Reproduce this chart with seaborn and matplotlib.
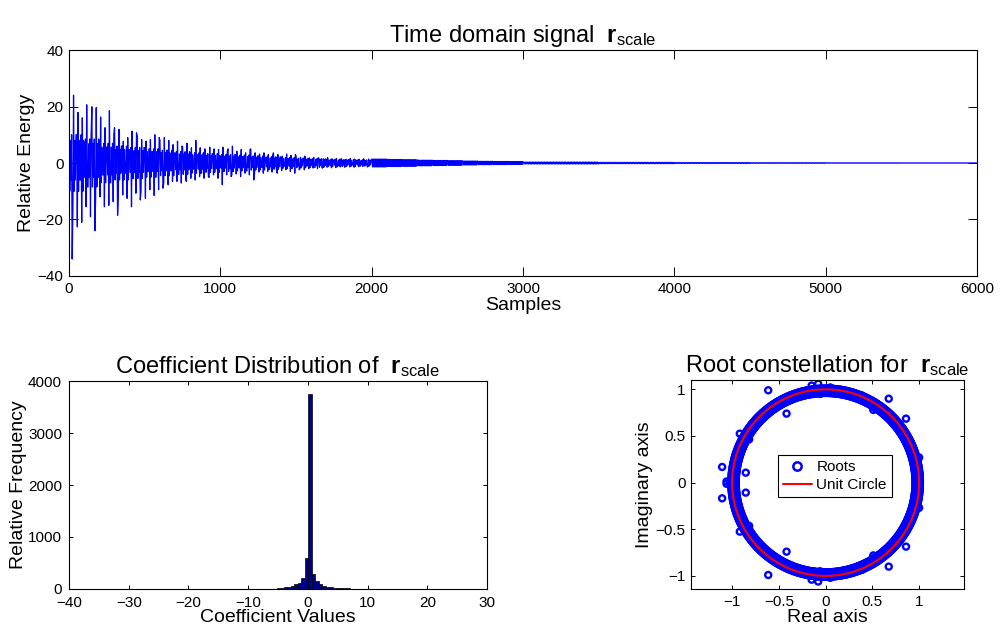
import numpy as np
import pandas as pd
import matplotlib
matplotlib.use("Agg")
import matplotlib.pyplot as plt
import seaborn as sns
from matplotlib.lines import Line2D

# ---------------- data ----------------
# Time-domain signal: upper / lower spike values per 25-sample bin (0..2000)
sig_hi = [16, 24, 17.9, 16, 20.6, 9.5, 19.9, 19.6, 16.3, 12.5,
          18.5, 10, 12.5, 11.9, 7.7, 9, 11.3, 10.7, 9.5, 8.3,
          7.7, 8.3, 10, 9, 8, 9, 8, 6.5, 7.7, 6,
          5.6, 7, 5.4, 8, 5.4, 5, 4.8, 5.6, 5, 4.8,
          5.6, 4.2, 5, 6, 4.2, 4.8, 3.6, 4.8, 5, 3.6,
          3.2, 3.6, 3, 2.7, 3.6, 3, 2.4, 3.2, 2.7, 3,
          2.4, 2, 2.4, 1.8, 2, 1.8, 1.8, 1.5, 1.9, 1.5,
          1.6, 1.4, 1.5, 1.3, 1.6, 1.4, 1.3, 1.5, 1.2, 1.4]
sig_lo = [-34, -15, -22.6, -21, -15.5, -19, -24, -12.5, -12, -15.5,
          -15, -13.7, -18.5, -12, -11.3, -12.5, -15.5, -10.7, -13.1, -10,
          -12.5, -9.5, -11.5, -9.5, -8.9, -7.1, -7.7, -6.5, -6.5, -7.1,
          -6, -6.5, -5.4, -6, -4.8, -5.4, -4.8, -5.1, -4.2, -5.4,
          -7.7, -4.2, -4.8, -4.2, -3.9, -4.8, -3.6, -4.2, -6, -3.9,
          -3.2, -3.6, -3, -3.2, -2.7, -3.6, -2.7, -2.4, -3, -3.6,
          -2.4, -2.1, -2.4, -2, -1.8, -2, -1.7, -1.8, -1.5, -1.7,
          -1.6, -1.4, -1.5, -1.3, -1.4, -1.5, -1.3, -1.2, -1.4, -1.3]
# dense core amplitude per 100 samples (0..2000)
sig_core = [10, 8.5, 7, 6, 5.5, 5, 4.5, 4, 3.6, 3.3,
            3, 2.8, 2.5, 2.2, 1.9, 1.7, 1.5, 1.3, 1.2, 1.1]
# tail amplitude per 100 samples (2000..3000) and per 500 samples (3000..6000)
tail_amp = [1.4, 1.25, 1.15, 1.0, 0.9, 0.8, 0.7, 0.6, 0.55, 0.5]
far_amp = [0.35, 0.25, 0.18, 0.12, 0.08, 0.06]

# Histogram counts (bins of width 0.585 starting at -33.84)
hist_counts = [1, 0, 0, 1, 0, 0, 0, 1, 0, 1,      # -33.8 .. -28.6
               0, 1, 0, 1, 1, 0, 1, 1, 0, 1,      # -28.0 .. -22.8
               1, 1, 2, 1, 1, 2, 2, 1, 2, 2,      # -22.2 .. -17.0
               2, 3, 2, 3, 3, 3, 4, 4, 4, 5,      # -16.3 .. -11.1
               5, 5, 6, 7, 7, 8, 8, 9, 9, 13,     # -10.5 .. -5.2
               19, 32, 45, 64, 90, 122, 205, 590, 3750, 282,   # -4.6 .. 0.68
               160, 90, 64, 45, 32, 26, 19, 13, 11, 10,        # 1.3 .. 6.3
               9, 8, 7, 6, 5, 5, 4, 4, 3, 3,      # 6.9 .. 12.2
               3, 2, 2, 2, 2, 1, 1, 2, 1, 1,      # 12.8 .. 18.0
               1, 1, 0, 1, 1, 0, 1, 0, 1, 1]      # 18.6 .. 23.9
hist_start = -33.84
hist_width = 0.585

# Roots: outliers (real, imag)
root_out_re = [-0.614, -0.418, -1.107, -1.107, -0.854, -0.854, -1.06, -1.06, -1.025,
               -0.918, -0.818, -0.918, -0.818, -0.418, -0.614,
               0.51, 0.675, 0.86, 0.51, 0.675, 0.86,
               -0.08, -0.15, -0.13, -0.06, -0.08, -0.15, -0.13, -0.06,
               0.05, 0.05, 1.0, 1.0, 0.386, 0.386]
root_out_im = [0.99, 0.74, 0.168, -0.168, 0.107, -0.107, 0.012, -0.012, 0.0,
               0.525, 0.464, -0.525, -0.464, -0.74, -0.99,
               0.78, 0.9, 0.686, -0.78, -0.9, -0.686,
               1.06, 1.04, 0.95, 0.95, -1.06, -1.04, -0.95, -0.95,
               1.02, -1.02, 0.27, -0.27, 0.935, -0.935]
# dense ring of roots hugging the unit circle
ring_radii = [0.962, 0.985, 1.008]
ring_step_deg = 0.6

# ---------------- style ----------------
sns.set_theme(style="ticks")
plt.rcParams['font.family'] = ['Liberation Sans', 'DejaVu Sans']
plt.rcParams['mathtext.fontset'] = 'custom'
plt.rcParams['mathtext.rm'] = 'Liberation Sans'
plt.rcParams['mathtext.bf'] = 'Liberation Sans:bold'
plt.rcParams['mathtext.it'] = 'Liberation Sans:italic'
plt.rcParams['axes.edgecolor'] = 'black'
plt.rcParams['axes.linewidth'] = 0.8
plt.rcParams['xtick.color'] = 'black'
plt.rcParams['ytick.color'] = 'black'
plt.rcParams['text.color'] = 'black'
plt.rcParams['axes.labelcolor'] = 'black'
plt.rcParams['axes.titlecolor'] = 'black'

TICK_FS = 11
LABEL_FS = 14
TITLE_FS = 17

fig = plt.figure(figsize=(10, 6.34), dpi=100)
ax_top = fig.add_axes([0.069, 0.5647, 0.908, 0.3564])
ax_hist = fig.add_axes([0.069, 0.071, 0.418, 0.328])
ax_root = fig.add_axes([0.691, 0.071, 0.273, 0.3296])


def matlab_box(ax, ticklen):
    ax.tick_params(direction='in', top=True, right=True, length=ticklen,
                   width=0.7, labelsize=TICK_FS, pad=4)
    for s in ax.spines.values():
        s.set_visible(True)
        s.set_color('black')


# ---------------- top: time signal ----------------
xs, ys = [], []
for k in range(len(sig_hi)):
    s = 25 * k
    c = sig_core[k // 4]
    vals = [sig_hi[k], -c, 0.8 * c, -0.6 * c, c, sig_lo[k]]
    rot = (k * 5) % 6
    vals = vals[rot:] + vals[:rot]
    for i, v in enumerate(vals):
        xs.append(s + 4 * i + 1)
        ys.append(v)
for j, a in enumerate(tail_amp):
    s = 2000 + 100 * j
    for i in range(25):
        xs.append(s + 4 * i + 2)
        ys.append(a if i % 2 == 0 else -a)
for j, a in enumerate(far_amp):
    s = 3000 + 500 * j
    for i in range(100):
        xs.append(s + 5 * i + 2)
        ys.append(a if i % 2 == 0 else -a)
xs.append(6000)
ys.append(0)
sig_df = pd.DataFrame({"n": xs, "v": ys})
sns.lineplot(data=sig_df, x="n", y="v", ax=ax_top, color='blue', linewidth=0.9,
             estimator=None, sort=False)
ax_top.set_xlim(0, 6000)
ax_top.set_ylim(-40, 40)
ax_top.set_xticks([0, 1000, 2000, 3000, 4000, 5000, 6000])
ax_top.set_yticks([-40, -20, 0, 20, 40])
matlab_box(ax_top, 6.5)
ax_top.set_xlabel("Samples", fontsize=LABEL_FS, labelpad=1)
ax_top.set_ylabel("Relative Energy", fontsize=LABEL_FS, labelpad=2)
ax_top.set_title("Time domain signal  $\\mathbf{r}_{\\mathrm{scale}}$", fontsize=TITLE_FS, pad=6)

# ---------------- bottom-left: histogram ----------------
n_bins = len(hist_counts)
edges = [float(hist_start + hist_width * i) for i in range(n_bins + 1)]
centers = [(edges[i] + edges[i + 1]) / 2 for i in range(n_bins)]
hist_df = pd.DataFrame({"val": centers, "cnt": hist_counts})
sns.histplot(data=hist_df, x="val", weights="cnt", bins=edges, ax=ax_hist,
             color=(0, 0, 0.56), edgecolor='black', linewidth=0.5, alpha=1)
ax_hist.set_xlim(-40, 30)
ax_hist.set_ylim(0, 4000)
ax_hist.set_xticks([-40, -30, -20, -10, 0, 10, 20, 30])
ax_hist.set_yticks([0, 1000, 2000, 3000, 4000])
matlab_box(ax_hist, 3)
ax_hist.tick_params(axis='x', pad=5)
ax_hist.tick_params(axis='y', pad=5)
ax_hist.set_xlabel("Coefficient Values", fontsize=LABEL_FS, labelpad=-1)
ax_hist.set_ylabel("Relative Frequency", fontsize=LABEL_FS, labelpad=1)
ax_hist.set_title("Coefficient Distribution of  $\\mathbf{r}_{\\mathrm{scale}}$", fontsize=TITLE_FS, pad=6)

# ---------------- bottom-right: roots ----------------
theta = np.deg2rad(np.arange(0, 360, ring_step_deg))
ring_re = np.concatenate([r * np.cos(theta) for r in ring_radii])
ring_im = np.concatenate([r * np.sin(theta) for r in ring_radii])
roots_df = pd.DataFrame({"re": np.concatenate([ring_re, root_out_re]),
                         "im": np.concatenate([ring_im, root_out_im])})
sns.scatterplot(data=roots_df, x="re", y="im", ax=ax_root, marker='o', s=19,
                color='blue', linewidth=1.7, legend=False)
for coll in ax_root.collections:
    coll.set_facecolor('none')
    coll.set_edgecolor('blue')
    coll.set_linewidth(1.7)
circ_t = np.linspace(0, 2 * np.pi, 400)
circ_df = pd.DataFrame({"re": np.cos(circ_t), "im": np.sin(circ_t)})
sns.lineplot(data=circ_df, x="re", y="im", ax=ax_root, color='red', linewidth=1.5,
             estimator=None, sort=False)
ax_root.set_xlim(-1.44, 1.48)
ax_root.set_ylim(-1.14, 1.1)
ax_root.set_xticks([-1, -0.5, 0, 0.5, 1])
ax_root.set_yticks([-1, -0.5, 0, 0.5, 1])
ax_root.set_xticklabels(["\u22121", "\u22120.5", "0", "0.5", "1"])
ax_root.set_yticklabels(["\u22121", "\u22120.5", "0", "0.5", "1"])
matlab_box(ax_root, 3)
ax_root.set_xlabel("Real axis", fontsize=LABEL_FS, labelpad=0)
ax_root.set_ylabel("Imaginary axis", fontsize=LABEL_FS, labelpad=2)
ax_root.set_title("Root constellation for  $\\mathbf{r}_{\\mathrm{scale}}$", fontsize=TITLE_FS, pad=6)
handles = [Line2D([], [], linestyle='none', marker='o', markersize=6, markerfacecolor='none',
                  markeredgecolor='blue', markeredgewidth=1.8, label='Roots'),
           Line2D([], [], color='red', linewidth=1.5, label='Unit Circle')]
leg = ax_root.legend(handles=handles, loc='center', bbox_to_anchor=(0.527, 0.54),
                     fontsize=11, frameon=True, fancybox=False, framealpha=1,
                     edgecolor='black', borderpad=0.35, handlelength=1.9,
                     handletextpad=0.3, labelspacing=0.25, borderaxespad=0)
leg.get_frame().set_linewidth(0.8)

fig.savefig("out.png", dpi=100)
